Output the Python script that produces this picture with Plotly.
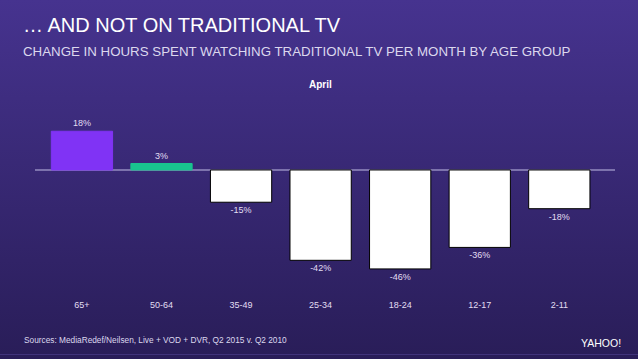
import base64
import plotly.graph_objects as go

# ---- data ----
age_groups = ["65+", "50-64", "35-49", "25-34", "18-24", "12-17", "2-11"]
change_pct = [18, 3, -15, -42, -46, -36, -18]
bar_colors = ["#8033f5", "#19c48f", "#ffffff", "#ffffff", "#ffffff", "#ffffff", "#ffffff"]
line_colors = ["#8033f5", "#19c48f", "#000000", "#000000", "#000000", "#000000", "#000000"]
series_name = "April"
title_text = "… AND NOT ON TRADITIONAL TV"
subtitle_text = "CHANGE IN HOURS SPENT WATCHING TRADITIONAL TV PER MONTH BY AGE GROUP"
source_text = "Sources: MediaRedef/Neilsen, Live + VOD + DVR, Q2 2015 v. Q2 2010"
logo_text = "YAHOO!"

W, H = 638, 359
ML, MR, MT, MB = 35, 23, 105, 69
PW, PH = W - ML - MR, H - MT - MB


def px(x):
    return (x - ML) / PW


def py(y):
    return (H - MB - y) / PH


svg = f'''<svg xmlns="http://www.w3.org/2000/svg" width="{W}" height="{H}" preserveAspectRatio="none">
<defs><linearGradient id="g" x1="0" y1="0" x2="0" y2="1">
<stop offset="0" stop-color="#46338f"/><stop offset="1" stop-color="#291d58"/>
</linearGradient></defs>
<rect width="{W}" height="{H}" fill="url(#g)"/>
<rect y="354" width="{W}" height="1" fill="#40337a"/></svg>'''
svg_uri = "data:image/svg+xml;base64," + base64.b64encode(svg.encode()).decode()

fig = go.Figure()
fig.add_trace(go.Bar(
    x=age_groups,
    y=change_pct,
    name=series_name,
    marker=dict(color=bar_colors, line=dict(color=line_colors, width=1)),
    width=0.77,
    text=[f"{v}%" for v in change_pct],
    textposition="outside",
    cliponaxis=False,
    textfont=dict(family="Liberation Sans, Arial, sans-serif", size=9, color="#e2def2"),
))

fig.update_layout(
    width=W, height=H,
    margin=dict(l=ML, r=MR, t=MT, b=MB),
    paper_bgcolor="#382779",
    plot_bgcolor="rgba(0,0,0,0)",
    showlegend=False,
    xaxis=dict(range=[-0.59, 6.70], showgrid=False, zeroline=False, showline=False,
               ticks="", ticklabelstandoff=8,
               tickfont=dict(family="Liberation Sans, Arial, sans-serif", size=9, color="#e2def2")),
    yaxis=dict(range=[-55.8, 30.2], showgrid=False, zeroline=False, showline=False,
               showticklabels=False, ticks=""),
    images=[dict(source=svg_uri, xref="paper", yref="paper", x=px(0), y=py(0),
                 sizex=W / PW, sizey=H / PH, xanchor="left", yanchor="top",
                 sizing="stretch", layer="below")],
    shapes=[dict(type="line", xref="paper", yref="y", x0=0, x1=1, y0=0, y1=0,
                 line=dict(color="#7d73ad", width=2), layer="below")],
)

ann_font = "Liberation Sans, Arial, sans-serif"
fig.add_annotation(text=title_text, xref="paper", yref="paper", x=px(21), y=py(25),
                   xanchor="left", yanchor="middle", showarrow=False,
                   font=dict(family=ann_font, size=20, color="#ffffff"))
fig.add_annotation(text=subtitle_text, xref="paper", yref="paper", x=px(21), y=py(51),
                   xanchor="left", yanchor="middle", showarrow=False,
                   font=dict(family=ann_font, size=13.3, color="#dcd8ee"))
fig.add_annotation(text="<b>" + series_name + "</b>", xref="paper", yref="paper", x=px(320), y=py(84),
                   xanchor="center", yanchor="middle", showarrow=False,
                   font=dict(family=ann_font, size=10, color="#ffffff"))
fig.add_annotation(text=source_text, xref="paper", yref="paper", x=px(22), y=py(340),
                   xanchor="left", yanchor="middle", showarrow=False,
                   font=dict(family=ann_font, size=8.3, color="#dcd8ee"))
fig.add_annotation(text=logo_text, xref="paper", yref="paper", x=px(623), y=py(343),
                   xanchor="right", yanchor="middle", showarrow=False,
                   font=dict(family=ann_font, size=10.5, color="#ffffff"))

fig.write_html("out.html", config={"displayModeBar": False},
               post_script="document.body.style.margin='0';document.body.style.overflow='hidden';")
